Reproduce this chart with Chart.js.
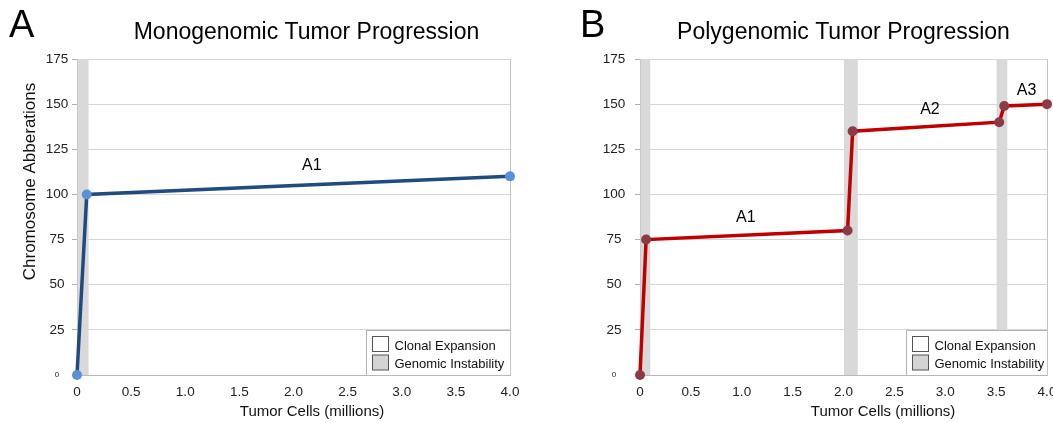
<!DOCTYPE html>
<html>
<head>
<meta charset="utf-8">
<script src="https://cdn.jsdelivr.net/npm/chart.js@4/dist/chart.umd.min.js"></script>
<style>
  html, body { margin: 0; padding: 0; background: #fff; overflow: hidden; width: 1053px; height: 423px; }
  .panel { position: absolute; top: 0; height: 423px; }
  #p1 { left: 0; width: 540px; }
  #p2 { left: 527px; width: 546px; }
</style>
</head>
<body>
<div class="panel" id="p1"><canvas id="c1" width="540" height="423"></canvas></div>
<div class="panel" id="p2"><canvas id="c2" width="546" height="423"></canvas></div>
<script>
// ---- Panel A: monogenomic progression ----
const monoX = [0, 0.09, 4.0];
const monoY = [0, 100, 110];
const monoBands = [[0, 0.107]];
const monoSegments = ['A1'];
const monoSegmentX = [2.17];
const monoSegmentY = [116];

// ---- Panel B: polygenomic progression ----
const polyX = [0, 0.06, 2.04, 2.09, 3.53, 3.58, 4.0];
const polyY = [0, 75, 80, 135, 140, 149, 150];
const polyBands = [[0, 0.1], [2.0, 2.14], [3.5, 3.61]];
const polySegments = ['A1', 'A2', 'A3'];
const polySegmentX = [1.04, 2.85, 3.8];
const polySegmentY = [87, 147, 157.5];

// ---- shared axes / legend ----
const yTickValues = [0, 25, 50, 75, 100, 125, 150, 175];
const xTickValues = [0, 0.5, 1.0, 1.5, 2.0, 2.5, 3.0, 3.5, 4.0];
const legendNames = ['Clonal Expansion', 'Genomic Instability'];
const legendFills = ['#ffffff', '#d4d4d4'];

const FONT = "'Liberation Sans', Arial, Helvetica, sans-serif";

function pts(xs, ys) { return xs.map((x, i) => ({ x, y: ys[i] })); }

// Gray instability bands, plot frame, legend and all free text
const decor = {
  id: 'decor',
  beforeDatasetsDraw(chart, args, o) {
    const { ctx, chartArea: a, scales: { x } } = chart;
    ctx.save();
    ctx.fillStyle = '#d9d9d9';
    for (const [s, e] of o.bands) {
      const x0 = x.getPixelForValue(s), x1 = x.getPixelForValue(e);
      ctx.fillRect(x0 + 0.5, a.top, x1 - x0 - 0.5, a.bottom - a.top);
    }
    // right edge of the plot frame
    ctx.strokeStyle = '#c4c4c4';
    ctx.lineWidth = 1;
    ctx.beginPath();
    ctx.moveTo(Math.round(a.right) + 0.5, a.top);
    ctx.lineTo(Math.round(a.right) + 0.5, a.bottom);
    ctx.stroke();
    ctx.restore();
  },
  afterDatasetsDraw(chart, args, o) {
    const { ctx, chartArea: a, scales: { x, y } } = chart;
    ctx.save();
    // legend box in the lower right corner
    const top = Math.round(y.getPixelForValue(25)) + 0.5;
    const left = Math.round(a.right - o.legendWidth) + 0.5;
    ctx.fillStyle = '#fff';
    ctx.fillRect(left, top, a.right - left, a.bottom - top);
    ctx.strokeStyle = '#b4b4b4';
    ctx.lineWidth = 1;
    ctx.beginPath();
    ctx.moveTo(left, a.bottom);
    ctx.lineTo(left, top);
    ctx.lineTo(a.right, top);
    ctx.stroke();
    ctx.font = '13px ' + FONT;
    ctx.textAlign = 'left';
    ctx.textBaseline = 'alphabetic';
    legendNames.forEach((name, i) => {
      const sy = top + 6 + i * 18.5;
      ctx.fillStyle = legendFills[i];
      ctx.fillRect(left + 6, sy, 16, 15);
      ctx.strokeStyle = '#555';
      ctx.strokeRect(left + 6, sy, 16, 15);
      ctx.fillStyle = '#111';
      ctx.fillText(name, left + 28, top + 19 + i * 18);
    });
    // segment labels placed in data coordinates
    ctx.font = '16px ' + FONT;
    ctx.textAlign = 'center';
    ctx.textBaseline = 'middle';
    ctx.fillStyle = '#000';
    o.segments.forEach((t, i) => {
      ctx.fillText(t, x.getPixelForValue(o.segX[i]), y.getPixelForValue(o.segY[i]));
    });
    ctx.restore();
  },
  afterDraw(chart, args, o) {
    const { ctx } = chart;
    ctx.save();
    ctx.fillStyle = '#000';
    ctx.textBaseline = 'alphabetic';
    ctx.textAlign = 'left';
    ctx.font = '38px ' + FONT;
    ctx.fillText(o.letter, o.letterX, 36.5);
    ctx.textAlign = 'center';
    ctx.font = '23px ' + FONT;
    ctx.fillText(o.title, o.titleX, 39);
    ctx.fillStyle = '#111';
    ctx.font = '15px ' + FONT;
    ctx.fillText('Tumor Cells (millions)', o.xTitleX, 416);
    if (o.yTitle) {
      ctx.translate(35, 181.5);
      ctx.rotate(-Math.PI / 2);
      ctx.font = '17px ' + FONT;
      ctx.fillText(o.yTitle, 0, 0);
    }
    ctx.restore();
  }
};

function makeChart(id, xs, ys, lineColor, pointColor, cfg) {
  return new Chart(document.getElementById(id), {
    type: 'scatter',
    data: {
      datasets: [{
        data: pts(xs, ys),
        showLine: true,
        borderColor: lineColor,
        borderWidth: 3.5,
        pointRadius: 5,
        pointBackgroundColor: pointColor,
        pointBorderColor: pointColor,
        pointBorderWidth: 0,
        tension: 0,
        clip: false
      }]
    },
    options: {
      responsive: false,
      animation: false,
      events: [],
      layout: { padding: { top: 59, right: cfg.padRight, bottom: 0, left: 0 } },
      plugins: {
        legend: { display: false },
        tooltip: { enabled: false },
        decor: cfg.decor
      },
      scales: {
        x: {
          type: 'linear',
          min: 0, max: 4,
          afterBuildTicks(s) { s.ticks = xTickValues.map(v => ({ value: v })); },
          afterFit(s) { s.height = 48; },
          grid: { display: false, drawTicks: false },
          border: { display: true, color: '#b8b8b8' },
          ticks: {
            padding: 9,
            color: '#222',
            font: { family: FONT, size: 13.5 },
            maxRotation: 0,
            callback: v => (v === 0 ? '0' : v.toFixed(1))
          }
        },
        y: {
          min: 0, max: 175,
          afterBuildTicks(s) { s.ticks = yTickValues.map(v => ({ value: v })); },
          afterFit(s) { s.width = cfg.yWidth; },
          grid: { color: '#d6d6d6', tickLength: 5, tickColor: '#b0b0b0' },
          border: { display: true, color: '#b8b8b8' },
          ticks: {
            crossAlign: 'center',
            padding: cfg.yPad,
            color: '#222',
            font: c => ({ family: FONT, size: c.tick && c.tick.value === 0 ? 8 : 13.5 }),
            callback: v => String(v)
          }
        }
      }
    },
    plugins: [decor]
  });
}

makeChart('c1', monoX, monoY, '#1f4b80', '#5b90d8', {
  padRight: 30, yWidth: 77, yPad: 3.75,
  decor: {
    bands: monoBands, segments: monoSegments, segX: monoSegmentX, segY: monoSegmentY,
    legendWidth: 144, letter: 'A', letterX: 9, title: 'Monogenomic Tumor Progression',
    titleX: 306.5, xTitleX: 312, yTitle: 'Chromosome Abberations'
  }
});

makeChart('c2', polyX, polyY, '#c00000', '#8c3a45', {
  padRight: 26, yWidth: 113, yPad: 9.75,
  decor: {
    bands: polyBands, segments: polySegments, segX: polySegmentX, segY: polySegmentY,
    legendWidth: 141, letter: 'B', letterX: 53, title: 'Polygenomic Tumor Progression',
    titleX: 316.5, xTitleX: 356, yTitle: null
  }
});
</script>
</body>
</html>
